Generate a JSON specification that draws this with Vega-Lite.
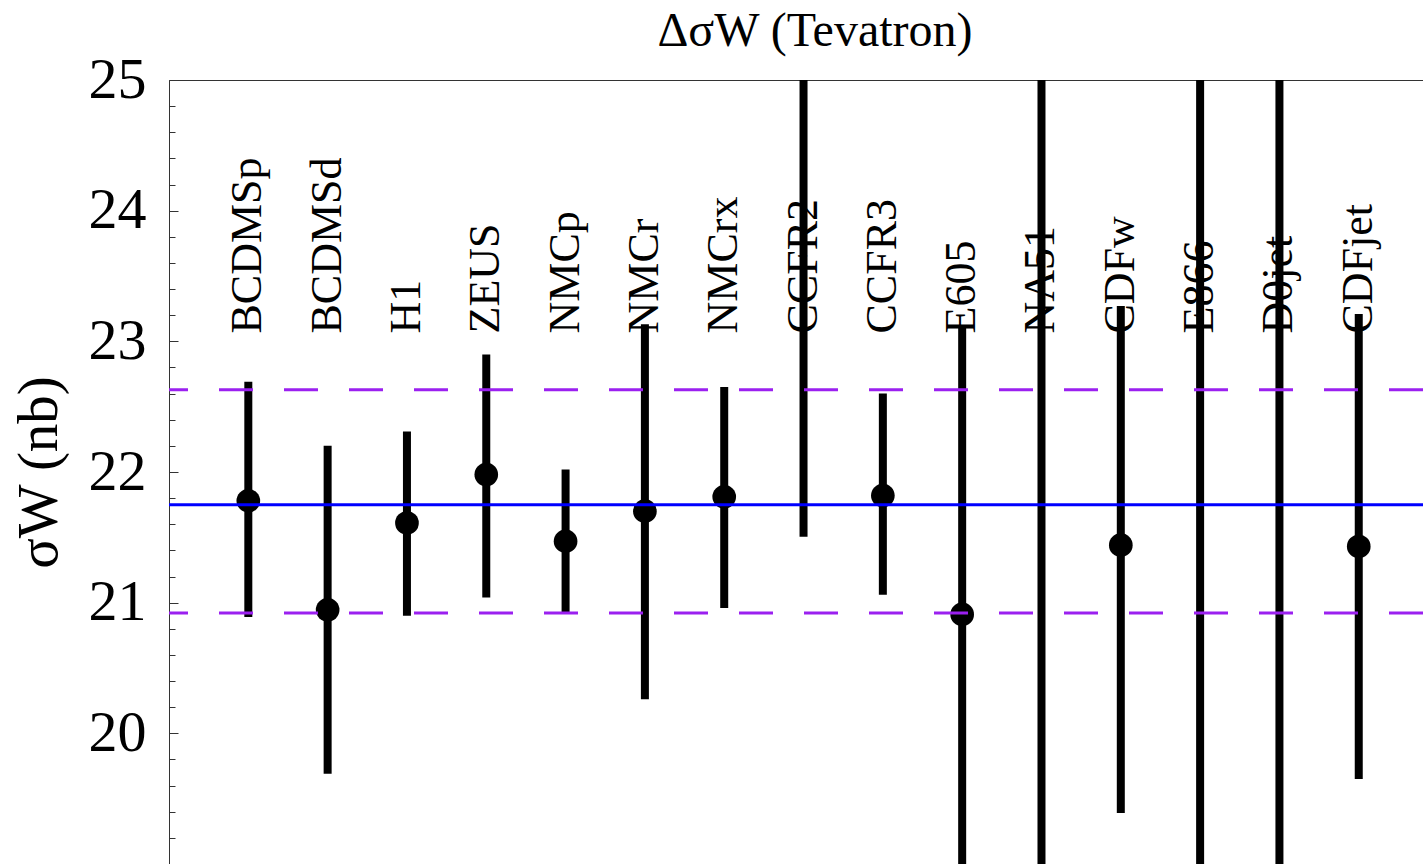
{
  "$schema": "https://vega.github.io/schema/vega-lite/v6.json",
  "autosize": {"type": "none"},
  "padding": {"left": 169, "top": 80, "right": 0, "bottom": 0},
  "width": 1254,
  "height": 784,
  "background": "white",
  "config": {
    "view": {"stroke": "#333333", "strokeWidth": 1},
    "font": "Liberation Serif"
  },
  "title": {
    "text": "ΔσW (Tevatron)",
    "font": "Liberation Serif",
    "fontSize": 48,
    "fontWeight": "normal",
    "color": "black",
    "anchor": "middle",
    "frame": "group",
    "dx": 19,
    "dy": 25,
    "offset": 20
  },
  "resolve": {"axis": {"y": "independent"}},
  "datasets": {
    "exp": [
      {"name": "BCDMSp", "i": 1, "v": 21.78, "lo": 20.89, "hi": 22.69},
      {"name": "BCDMSd", "i": 2, "v": 20.945, "lo": 19.69, "hi": 22.2},
      {"name": "H1", "i": 3, "v": 21.61, "lo": 20.9, "hi": 22.31},
      {"name": "ZEUS", "i": 4, "v": 21.98, "lo": 21.04, "hi": 22.9},
      {"name": "NMCp", "i": 5, "v": 21.47, "lo": 20.92, "hi": 22.02},
      {"name": "NMCr", "i": 6, "v": 21.7, "lo": 20.26, "hi": 23.13},
      {"name": "NMCrx", "i": 7, "v": 21.81, "lo": 20.96, "hi": 22.65},
      {"name": "CCFR2", "i": 8, "v": 25.6, "lo": 21.505, "hi": 29.7},
      {"name": "CCFR3", "i": 9, "v": 21.82, "lo": 21.06, "hi": 22.6},
      {"name": "E605", "i": 10, "v": 20.91, "lo": 18.7, "hi": 23.12},
      {"name": "NA51", "i": 11, "v": 15.5, "lo": 4.0, "hi": 27.0},
      {"name": "CDFw", "i": 12, "v": 21.44, "lo": 19.39, "hi": 23.27},
      {"name": "E866", "i": 13, "v": 26.5, "lo": 18.0, "hi": 35.0},
      {"name": "D0jet", "i": 14, "v": 17.5, "lo": 9.0, "hi": 26.0},
      {"name": "CDFjet", "i": 15, "v": 21.43, "lo": 19.65, "hi": 23.21}
    ],
    "central": [{"y": 21.75}],
    "band": [{"y": 22.63}, {"y": 20.92}]
  },
  "layer": [
    {
      "data": {"name": "exp"},
      "mark": {"type": "rule", "color": "black", "strokeWidth": 8, "clip": true},
      "encoding": {
        "x": {"field": "i", "type": "quantitative", "scale": {"domain": [0, 15.81], "nice": false, "zero": false}, "axis": null},
        "y": {
          "field": "lo",
          "type": "quantitative",
          "scale": {"domain": [19, 25], "nice": false, "zero": false},
          "axis": {
            "orient": "left",
            "title": "σW (nb)",
            "titleFont": "Liberation Serif",
            "titleFontSize": 57,
            "titleFontWeight": "normal",
            "titleColor": "black",
            "titlePadding": 20,
            "values": [20, 21, 22, 23, 24, 25],
            "format": "d",
            "labelOverlap": false,
            "labelFont": "Liberation Serif",
            "labelFontSize": 58,
            "labelColor": "black",
            "labelPadding": 32,
            "labelBaseline": "middle",
            "labelFlush": false,
            "grid": false,
            "domainColor": "#333333",
            "domainWidth": 1,
            "tickColor": "#333333",
            "tickWidth": 1,
            "tickSize": -9
          }
        },
        "y2": {"field": "hi"}
      }
    },
    {
      "data": {"name": "exp"},
      "mark": {"type": "text", "angle": 270, "align": "left", "baseline": "middle", "font": "Liberation Serif", "fontSize": 44, "color": "black"},
      "encoding": {
        "x": {"field": "i", "type": "quantitative"},
        "y": {"datum": 23.06, "type": "quantitative", "axis": null},
        "text": {"field": "name", "type": "nominal"}
      }
    },
    {
      "data": {"name": "exp"},
      "mark": {"type": "point", "shape": "circle", "filled": true, "color": "black", "opacity": 1, "size": 560, "clip": true},
      "encoding": {
        "x": {"field": "i", "type": "quantitative"},
        "y": {"field": "v", "type": "quantitative", "axis": null}
      }
    },
    {
      "data": {"name": "central"},
      "mark": {"type": "rule", "color": "#0000ff", "strokeWidth": 3},
      "encoding": {
        "y": {
          "field": "y",
          "type": "quantitative",
          "axis": {
            "orient": "left",
            "title": null,
            "labels": false,
            "domain": false,
            "grid": false,
            "values": [19.2, 19.4, 19.6, 19.8, 20.2, 20.4, 20.6, 20.8, 21.2, 21.4, 21.6, 21.8, 22.2, 22.4, 22.6, 22.8, 23.2, 23.4, 23.6, 23.8, 24.2, 24.4, 24.6, 24.8],
            "tickColor": "#333333",
            "tickWidth": 1,
            "tickSize": -6
          }
        }
      }
    },
    {
      "data": {"name": "band"},
      "mark": {"type": "rule", "color": "#9b20f0", "strokeWidth": 3, "strokeDash": [34, 31]},
      "encoding": {"y": {"field": "y", "type": "quantitative", "axis": null}}
    }
  ]
}
